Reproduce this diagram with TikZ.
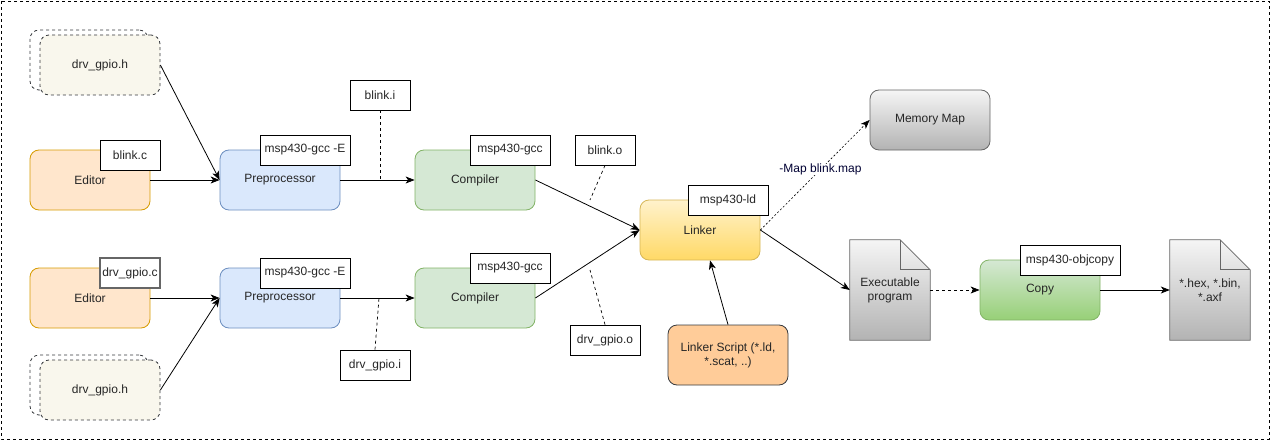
\documentclass[tikz,border=0pt]{standalone}
\usepackage{fontspec}
\setmainfont{Liberation Sans}
\usepackage{xcolor}
\usetikzlibrary{arrows.meta}
\pgfdeclarelayer{back}
\pgfsetlayers{back,main}

\definecolor{edfill}{HTML}{FFE6CC}
\definecolor{edline}{HTML}{D79B00}
\definecolor{prefill}{HTML}{DAE8FC}
\definecolor{preline}{HTML}{6C8EBF}
\definecolor{compfill}{HTML}{D5E8D4}
\definecolor{compline}{HTML}{82B366}
\definecolor{copybot}{HTML}{97D077}
\definecolor{ldtop}{HTML}{FFF2CC}
\definecolor{ldbot}{HTML}{FFD966}
\definecolor{ldline}{HTML}{D6B656}
\definecolor{scriptfill}{HTML}{FFCC99}
\definecolor{darkline}{HTML}{36393D}
\definecolor{hdrfill}{HTML}{F9F7ED}
\definecolor{graytop}{HTML}{F5F5F5}
\definecolor{graybot}{HTML}{B3B3B3}
\definecolor{grayline}{HTML}{666666}

\begin{document}
\begin{tikzpicture}[x=1pt, y=-1pt,
  every node/.style={font=\fontsize{12}{14}\selectfont, align=center, inner sep=1pt, text=black!85},
  stage/.style={rectangle, rounded corners=9pt, minimum width=120pt, minimum height=60pt, line width=0.8pt},
  header/.style={stage, draw=darkline, dash pattern=on 3pt off 3pt},
  tag/.style={rectangle, draw=black, fill=white, minimum height=30pt, line width=0.8pt},
  doc/.style={minimum width=80pt, minimum height=100pt},
  flow/.style={-{Stealth[length=9pt,width=7pt,inset=2.5pt]}, line width=0.8pt},
  hint/.style={dash pattern=on 3pt off 3pt, line width=0.7pt}
]
\useasboundingbox (0,0) rectangle (1271,441);
\draw[dash pattern=on 3pt off 3pt, line width=0.8pt] (1,1) rectangle (1269,439);

% upper row
\node[header, fill=white, minimum width=118pt] (hdrAb) at (89,60) {};
\node[header, fill=hdrfill] (hdrA) at (100,65) {drv\_gpio.h};
\node[stage, draw=edline, fill=edfill] (edA) at (90,180) {Editor};
\node[tag, minimum width=60pt] (blinkc) at (130,155) {blink.c};
\node[stage, draw=preline, fill=prefill] (preA) at (280,180) {Preprocessor};
\node[tag, minimum width=90pt] (preAtag) at (305,150) {msp430-gcc -E};
\node[tag, minimum width=60pt] (blinki) at (380,95) {blink.i};
\node[stage, draw=compline, fill=compfill] (compA) at (475,180) {Compiler};
\node[tag, minimum width=80pt] (compAtag) at (510,150) {msp430-gcc};
\node[tag, minimum width=60pt] (blinko) at (605,150) {blink.o};

% lower row
\node[stage, draw=edline, fill=edfill] (edB) at (90,298) {Editor};
\node[tag, draw=grayline, line width=1.6pt, minimum width=60pt] (gpioc) at (130,273) {drv\_gpio.c};
\node[stage, draw=preline, fill=prefill] (preB) at (280,298) {Preprocessor};
\node[tag, minimum width=90pt] (preBtag) at (305,273) {msp430-gcc -E};
\node[tag, minimum width=70pt] (gpioi) at (375,365) {drv\_gpio.i};
\node[stage, draw=compline, fill=compfill] (compB) at (475,298) {Compiler};
\node[tag, minimum width=80pt] (compBtag) at (510,268) {msp430-gcc};
\node[tag, minimum width=70pt] (gpioo) at (605,340) {drv\_gpio.o};
\node[header, fill=white, minimum width=118pt] (hdrBb) at (89,385) {};
\node[header, fill=hdrfill] (hdrB) at (100,390) {drv\_gpio.h};

% linking
\node[stage, draw=ldline, top color=ldtop, bottom color=ldbot] (linker) at (700,230) {Linker};
\node[tag, minimum width=80pt] (ldtag) at (728,200) {msp430-ld};
\node[stage, draw=darkline, fill=scriptfill] (lscript) at (728,355) {Linker Script (*.ld,\\*.scat, ..)};
\node[stage, draw=grayline, top color=graytop, bottom color=graybot] (memmap) at (930,120) {Memory Map};
\node[doc] (exe) at (890,290) {Executable\\program};
\node[stage, draw=compline, top color=compfill, bottom color=copybot] (copy) at (1040,290) {Copy};
\node[tag, minimum width=100pt] (copytag) at (1070,260) {msp430-objcopy};
\node[doc] (outf) at (1210,290) {*.hex, *.bin,\\*.axf};

\begin{pgfonlayer}{back}
\foreach \d in {exe,outf} {
  \shade[top color=graytop, bottom color=graybot, draw=grayline, line width=0.8pt]
    (\d.north west) -- ([xshift=-30pt]\d.north east) -- ([yshift=-30pt]\d.north east)
    -- (\d.south east) -- (\d.south west) -- cycle;
  \draw[grayline, line width=0.8pt] ([xshift=-30pt]\d.north east)
    -- ([xshift=-30pt,yshift=-30pt]\d.north east) -- ([yshift=-30pt]\d.north east);
}
\end{pgfonlayer}

% connectors
\draw[flow] (hdrA.east) -- (preA.west);
\draw[flow] (edA.east) -- (preA.west);
\draw[flow] (edB.east) -- (preB.west);
\draw[flow] (hdrB.east) -- (preB.west);
\draw[flow] (preA.east) -- (compA.west);
\draw[flow] (preB.east) -- (compB.west);
\draw[hint] (blinki.south) -- (blinki.south |- preA.east);
\draw[hint] (gpioi.north) -- ([xshift=4pt]gpioi.north |- preB.east);
\draw[flow] (compA.east) -- (linker.west);
\draw[flow] (compB.east) -- (linker.west);
\coordinate (oA) at (590,200);
\coordinate (oB) at (590,270);
\draw[hint] (blinko.south) -- (oA);
\draw[hint] (gpioo.north) -- (oB);
\draw[flow] (lscript.north) -- ([xshift=10pt]linker.south);
\draw[flow, dash pattern=on 2pt off 2pt, line width=0.6pt] (linker.east) -- (memmap.west)
  node[pos=0.55, fill=white, inner sep=0pt, text=blue!20!black] {-Map blink.map};
\draw[flow] (linker.east) -- (exe.west);
\draw[flow, dash pattern=on 3pt off 3pt] (exe.east) -- (copy.west);
\draw[flow] (copy.east) -- (outf.west);
\end{tikzpicture}
\end{document}
